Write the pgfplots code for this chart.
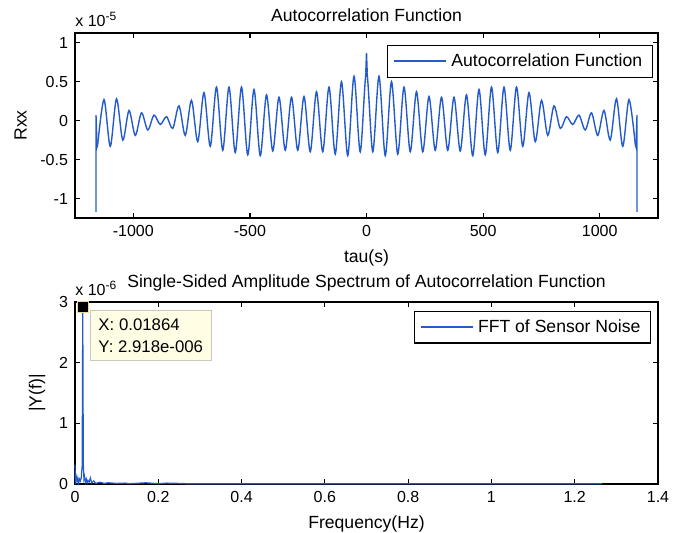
\documentclass[border=0pt]{standalone}
\usepackage{pgfplots}
\pgfplotsset{compat=1.18}
\usepackage{fontspec}
\setmainfont{Liberation Sans}
\definecolor{mblue}{RGB}{35,90,205}
\definecolor{tipbg}{RGB}{255,253,228}
\definecolor{tipedge}{RGB}{200,200,190}
\definecolor{tipmark}{RGB}{235,215,150}
\begin{document}
\begin{tikzpicture}[x=1pt,y=1pt]
\useasboundingbox (0,0) rectangle (339,266.5);
\pgfplotsset{
  every axis/.append style={
    scale only axis, width=291.5pt, clip=false,
    font=\fontsize{8}{9.6}\selectfont,
    label style={font=\fontsize{8.8}{10.5}\selectfont},
    tick align=inside, major tick length=2.5pt,
    axis line style={line width=0.8pt},
    every tick/.style={black, line width=0.6pt},
    legend cell align=left,
    legend style={draw=black, line width=0.6pt, font=\fontsize{8.8}{10.5}\selectfont,
      inner xsep=3pt, inner ysep=2pt, anchor=north east},
    legend image code/.code={\draw[#1, line width=0.9pt] (0pt,0.3pt) -- (26pt,0.3pt);},
    title style={yshift=-4pt, font=\fontsize{8.8}{10.5}\selectfont},
  }
}
% ---------------- top axis ----------------
\begin{axis}[
  at={(37.5pt,157.5pt)}, anchor=south west, height=92.5pt,
  xmin=-1250, xmax=1250, ymin=-1.25, ymax=1.125,
  xtick={-1000,-500,0,500,1000}, xticklabels={-1000,-500,0,500,1000},
  ytick={-1,-0.5,0,0.5,1}, yticklabels={-1,-0.5,0,0.5,1},
  xlabel={tau(s)}, ylabel={Rxx}, title={Autocorrelation Function},
  legend style={at={(0.991,0.935)}},
]
\addplot[mblue, line width=0.7pt, smooth, tension=0.5] coordinates {
(-1152.4,-0.30)(-1125.6,0.27)(-1098.8,-0.33)(-1072.0,0.28)(-1045.2,-0.25)
(-1018.4,0.13)(-991.6,-0.19)(-964.8,0.10)(-938.0,-0.12)(-911.2,0.07)
(-884.4,-0.05)(-857.6,0.05)(-830.8,-0.10)(-804.0,0.19)(-777.2,-0.19)
(-750.4,0.26)(-723.6,-0.27)(-696.8,0.36)(-670.0,-0.33)(-643.2,0.43)
(-616.4,-0.38)(-589.6,0.43)(-562.8,-0.41)(-536.0,0.43)(-509.2,-0.44)
(-482.4,0.40)(-455.6,-0.45)(-428.8,0.33)(-402.0,-0.39)(-375.2,0.30)
(-348.4,-0.38)(-321.6,0.30)(-294.8,-0.38)(-268.0,0.31)(-241.2,-0.40)
(-214.4,0.37)(-187.6,-0.40)(-160.8,0.43)(-134.0,-0.43)(-107.2,0.50)
(-80.4,-0.45)(-53.6,0.57)(-26.8,-0.40)(0,0.64)
(26.8,-0.40)(53.6,0.57)(80.4,-0.45)(107.2,0.50)(134.0,-0.43)
(160.8,0.43)(187.6,-0.40)(214.4,0.37)(241.2,-0.40)(268.0,0.31)
(294.8,-0.38)(321.6,0.30)(348.4,-0.38)(375.2,0.30)(402.0,-0.39)
(428.8,0.33)(455.6,-0.45)(482.4,0.40)(509.2,-0.44)(536.0,0.43)
(562.8,-0.41)(589.6,0.43)(616.4,-0.38)(643.2,0.43)(670.0,-0.33)
(696.8,0.36)(723.6,-0.27)(750.4,0.26)(777.2,-0.19)(804.0,0.19)
(830.8,-0.10)(857.6,0.05)(884.4,-0.05)(911.2,0.07)(938.0,-0.12)
(964.8,0.10)(991.6,-0.19)(1018.4,0.13)(1045.2,-0.25)(1072.0,0.28)
(1098.8,-0.33)(1125.6,0.27)(1152.4,-0.30)
};
\addlegendentry{Autocorrelation Function}
\addplot[mblue, line width=0.7pt, forget plot] coordinates {
(-1160,-1.17)(-1160,0.07)(-1157,-0.2)(-1155,-0.33)(-1152.4,-0.30)};
\addplot[mblue, line width=0.7pt, forget plot] coordinates {
(1152.4,-0.30)(1155,-0.33)(1157,-0.2)(1160,0.07)(1160,-1.17)};
\addplot[mblue, line width=0.7pt, forget plot] coordinates {
(-3,0.62)(0,0.87)(3,0.62)};
\node[anchor=south west, inner sep=0pt] at (rel axis cs:0,1) [yshift=3pt] {x 10\textsuperscript{-5}};
\end{axis}
% ---------------- bottom axis ----------------
\begin{axis}[
  at={(37.5pt,24.5pt)}, anchor=south west, height=91pt,
  xmin=0, xmax=1.4, ymin=0, ymax=3,
  xtick={0,0.2,0.4,0.6,0.8,1,1.2,1.4}, xticklabels={0,0.2,0.4,0.6,0.8,1,1.2,1.4},
  ytick={0,1,2,3}, yticklabels={0,1,2,3},
  xlabel={Frequency(Hz)}, ylabel={|Y(f)|},
  title={Single-Sided Amplitude Spectrum of Autocorrelation Function},
  legend style={at={(0.988,0.952)}},
]
\addplot[mblue, line width=0.6pt] coordinates {
(0,0.32)(0.001,0.05)(0.003,0.12)(0.005,0.03)(0.007,0.10)(0.009,0.02)
(0.011,0.08)(0.013,0.05)(0.015,0.10)(0.0172,0.30)(0.01864,2.918)(0.0200,0.33)
(0.0215,0.08)(0.023,0.12)(0.025,0.03)(0.027,0.08)(0.029,0.02)(0.031,0.06)
(0.034,0.03)(0.037,0.10)(0.040,0.02)(0.045,0.05)(0.050,0.01)(0.060,0.03)
(0.070,0.01)(0.080,0.02)(0.100,0.01)(0.120,0.015)(0.130,0.005)(0.170,0.02)
(0.200,0.005)(0.220,0.015)(0.250,0.01)(0.270,0.005)(0.300,0.003)(0.500,0.003)
(1.000,0.003)(1.266,0.003)
};
\addlegendentry{FFT of Sensor Noise}
\addplot[only marks, mark=square*, mark size=2.7pt, forget plot,
  mark options={fill=black, draw=tipmark, line width=0.6pt}] coordinates {(0.01864,2.918)};
\node[anchor=north west, fill=tipbg, draw=tipedge, line width=0.5pt, align=left,
  inner xsep=4pt, inner ysep=4pt, font=\fontsize{8.4}{11}\selectfont] at (axis cs:0.036,2.86)
  {X: 0.01864\\Y: 2.918e-006};
\node[anchor=south west, inner sep=0pt] at (rel axis cs:0,1) [yshift=3pt] {x 10\textsuperscript{-6}};
\end{axis}
\end{tikzpicture}
\end{document}
